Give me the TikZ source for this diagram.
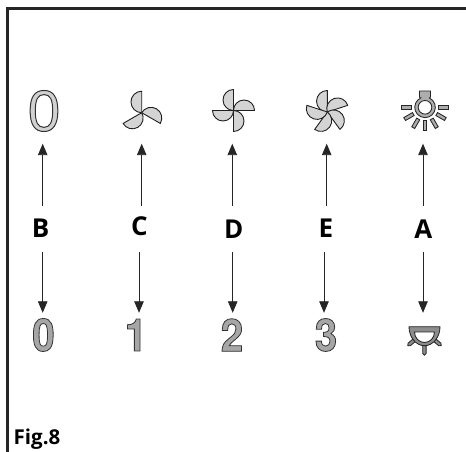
\documentclass[tikz,border=0pt]{standalone}
\usepackage{fontspec}
\setmainfont{Open Sans}
\newfontfamily\digitfont{Liberation Sans}
\newfontfamily\numberfont[FakeStretch=.9]{TeX Gyre Heros}
\usetikzlibrary{arrows.meta}
\newcommand{\outlined}[3]{\special{pdf:code q 2 Tr #1 w 0.2 G #2 g}#3\special{pdf:code Q}}

\begin{document}
\begin{tikzpicture}
  [x=1pt,y=1pt,
   frame/.style={line width=3pt,black!85},
   arrowline/.style={line width=.9pt,black!85,-{Triangle[length=11.5pt,width=9.5pt]}},
   blade/.style={fill=black!17,draw=black!88,line width=.9pt,line join=round},
   lampon/.style={fill=black!32,draw=black!85,line width=.85pt},
   lamplow/.style={fill=black!45,draw=black!85,line width=.85pt},
   letter/.style={font=\bfseries\fontsize{26}{26}\selectfont,inner sep=0pt},
   number/.style={font=\numberfont\bfseries\fontsize{45}{45}\selectfont,inner sep=0pt,minimum height=44pt},
   slot/.style={inner sep=0pt,minimum width=1pt,minimum height=65pt}]
  \useasboundingbox (0,0) rectangle (466,452);
  \draw[frame] (7.5,0) -- (7.5,443.3) -- (466,443.3);

  % top row
  \node[slot,font=\digitfont\fontsize{58}{58}\selectfont] (topB) at (44,341)
    {\outlined{1}{.82}{0}};
  \node[slot] (topC) at (141.7,341) {};
  \node[slot] (topD) at (232.5,341) {};
  \node[slot] (topE) at (326.7,341) {};
  \node[slot] (topA) at (423.3,341) {};

  % fans
  \foreach \k in {0,1,2}
    \draw[blade] (141.7,339.3) -- ++({90-\k*120}:21.5)
      arc[start angle={90-\k*120},end angle={270-\k*120},radius=10.75];
  \foreach \k in {0,1,2,3}
    \draw[blade] (233.5,341.5) -- ++({90-\k*90}:21)
      arc[start angle={90-\k*90},end angle={270-\k*90},radius=10.5];
  \foreach \k in {0,1,2,3,4}
    \draw[blade] (327.3,340) -- ++({90-\k*72}:21.5)
      arc[start angle={90-\k*72},end angle={270-\k*72},radius=10.75];

  % lamp on
  \foreach \a in {0,-30,-60,-90,-120,-150,180}
    \draw[lampon,shift={(425,344.7)},rotate=\a] (13.5,-1.7) rectangle (23.5,1.7);
  \draw[lampon,even odd rule] (419.5,361) -- (430.5,361) -- (430.5,355)
    -- (429.4,354) arc[start angle=65,end angle=-245,radius=10.3] -- (420.6,354) -- (419.5,355) -- cycle
    (425,344.7) circle[radius=6.8];

  % lamp low
  \draw[lamplow,shift={(424.4,107)}] (-1.7,0) -- (-1.7,-8.5) arc[start angle=180,end angle=360,radius=1.7] -- (1.7,0) -- cycle;
  \draw[lamplow,shift={(414.5,112)},rotate=-50] (-1.7,0) -- (-1.7,-7) arc[start angle=180,end angle=360,radius=1.7] -- (1.7,0) -- cycle;
  \draw[lamplow,shift={(434.5,112)},rotate=50] (-1.7,0) -- (-1.7,-7) arc[start angle=180,end angle=360,radius=1.7] -- (1.7,0) -- cycle;
  \draw[lamplow,even odd rule] (409,125.3) -- (440,125.3)
    arc[start angle=0,end angle=-180,x radius=15.5,y radius=19] -- cycle
    (414.5,120) -- (434.5,120) arc[start angle=0,end angle=-180,x radius=10,y radius=10.5] -- cycle;
  \node[inner sep=0pt,minimum width=1pt,minimum height=44pt] (botA) at (423.3,117) {};

  % bottom row
  \node[number] (botB) at (43.5,117) {\outlined{.8}{.65}{0}};
  \node[number] (botC) at (136,117) {\outlined{.8}{.65}{1}};
  \node[number] (botD) at (232,117) {\outlined{.8}{.65}{2}};
  \node[number] (botE) at (326,117) {\outlined{.8}{.65}{3}};

  % letters
  \node[letter] (lblB) at (40.7,224) {B};
  \node[letter] (lblC) at (139.3,225.3) {C};
  \node[letter] (lblD) at (233.7,223) {D};
  \node[letter] (lblE) at (326,223.7) {E};
  \node[letter] (lblA) at (423.3,223) {A};
  \foreach \name/\xup/\xdn in {B/42.7/42.7,C/141.7/139,D/232.3/232.7,E/326.7/324,A/423/423} {
    \coordinate (up\name) at (\xup,246);
    \coordinate (dn\name) at (\xdn,200.3);
    \draw[arrowline] (up\name) -- (up\name |- top\name.south);
    \draw[arrowline] (dn\name) -- (dn\name |- bot\name.north);
  }

  \node[letter,anchor=base west,font=\bfseries\fontsize{20.5}{20.5}\selectfont] (figlabel) at (13.5,7) {Fig.8};
\end{tikzpicture}
\end{document}
